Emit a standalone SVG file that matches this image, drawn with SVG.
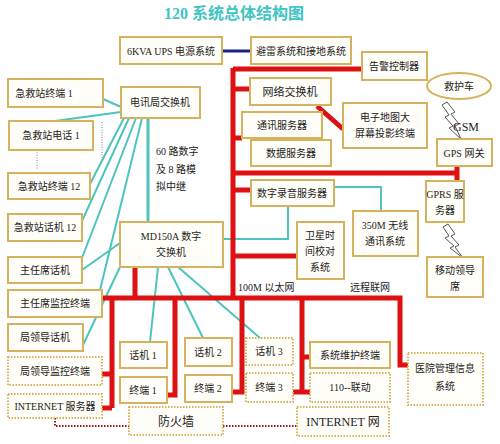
<svg xmlns="http://www.w3.org/2000/svg" width="500" height="444" viewBox="0 0 500 444">
<style>
.b{fill:#fffef8;stroke:#d6b25e;stroke-width:2}
.d{fill:#fffef8;stroke:#d6b25e;stroke-width:2;stroke-dasharray:1.5 1.5}
.t{font-family:"Liberation Serif","Noto Sans CJK SC",serif;font-size:10px;fill:#222;text-anchor:middle}
.r{stroke:#dd1111;stroke-width:5;fill:none}
.c{stroke:#4cc4c0;stroke-width:2;fill:none}
.g{stroke:#999;stroke-width:1.2;stroke-dasharray:1 1.5;fill:none}
.bolt{fill:#fff;stroke:#555;stroke-width:1}
</style>
<rect width="500" height="444" fill="#fff"/>
<text x="234" y="19" style="font-family:'Liberation Serif','Noto Sans CJK SC',serif;font-size:16px;font-weight:bold;fill:#40c4c4" text-anchor="middle">120 系统总体结构图</text>
<g id="connectors">
<path class="c" d="M148,118V222" style="stroke-width:3"/>
<path class="c" d="M103,99L121,107M55,121L121,112M124,118L90,184M129,118L82,221M136,118L82,258M142,118L100,290M120,243L82,270M120,267L83,345M158,267L150,342M168,267L203,338M178,267L260,338M223,239H288V206M334,187H381V211"/>
<path d="M222,51H251" stroke="#1a237e" stroke-width="3"/>
<path class="g" d="M37,150V170M102,122V162"/>
<path d="M55,418V426H129M223,426H297" stroke="#a01010" stroke-width="2" stroke-dasharray="1.5 1.5" fill="none"/>
<path class="r" d="M233,68V298M233,69H362M233,89H250M233,138H242M233,173H457M457,166V181M233,190H251M233,256H297M102,298H400V365H408M135,267V298M112,298V408M102,374H112M102,408H112M175,298V395H167M242,298V392H232M302,298V392M293,392H310M302,357H310M317,106L343,129"/>
<polygon class="bolt" points="447,102 455,112 451,114 459,124 455,126 461,139 449,128 453,126 445,117 449,115 442,105"/>
<polygon class="bolt" points="448,224 455,234 451,236 459,245 455,247 463,258 450,248 454,246 445,238 449,236 443,227"/>
</g>
<text class="t" x="466" y="131" style="font-size:12px">GSM</text>
<text class="t" x="156" y="155" style="text-anchor:start">60 路数字</text>
<text class="t" x="156" y="173" style="text-anchor:start">及 8 路模</text>
<text class="t" x="156" y="190" style="text-anchor:start">拟中继</text>
<text class="t" x="238" y="291" style="text-anchor:start">100M 以太网</text>
<text class="t" x="350" y="291" style="text-anchor:start">远程联网</text>
<g id="ups"><rect class="b" x="120" y="37" width="102" height="27"/><text class="t" x="171" y="55">6KVA UPS 电源系统</text></g>
<g id="blz"><rect class="b" x="251" y="37" width="100" height="27"/><text class="t" x="301" y="55">避雷系统和接地系统</text></g>
<g id="alarm"><rect class="b" x="362" y="52" width="65" height="28"/><text class="t" x="394" y="70">告警控制器</text></g>
<g id="ambulance"><ellipse cx="459" cy="86" rx="32" ry="13" fill="#fffef8" stroke="#d6b25e" stroke-width="2"/><text class="t" x="459" y="90">救护车</text></g>
<g id="gps"><rect class="b" x="437" y="139" width="55" height="27"/><text class="t" x="464" y="157">GPS 网关</text></g>
<g id="gprs"><rect class="b" x="426" y="181" width="38" height="41"/><text class="t" x="445" y="198">GPRS 服</text><text class="t" x="445" y="214">务器</text></g>
<g id="mobile"><rect class="b" x="427" y="257" width="56" height="40"/><text class="t" x="455" y="274">移动领导</text><text class="t" x="455" y="290">席</text></g>
<g id="netsw"><rect class="b" x="250" y="78" width="81" height="27"/><text class="t" x="290" y="96" style="font-size:11px">网络交换机</text></g>
<g id="comm"><rect class="b" x="242" y="112" width="80" height="26"/><text class="t" x="282" y="129">通讯服务器</text></g>
<g id="data"><rect class="b" x="251" y="140" width="80" height="26"/><text class="t" x="291" y="157">数据服务器</text></g>
<g id="emap"><rect class="b" x="343" y="103" width="84" height="45"/><text class="t" x="385" y="121">电子地图大</text><text class="t" x="385" y="137">屏幕投影终端</text></g>
<g id="rec"><rect class="b" x="251" y="180" width="83" height="26"/><text class="t" x="292" y="197">数字录音服务器</text></g>
<g id="radio"><rect class="b" x="353" y="211" width="65" height="45"/><text class="t" x="385" y="229">350M 无线</text><text class="t" x="385" y="245">通讯系统</text></g>
<g id="sat"><rect class="b" x="297" y="222" width="47" height="57"/><text class="t" x="320" y="239">卫星时</text><text class="t" x="320" y="255">间校对</text><text class="t" x="320" y="271">系统</text></g>
<g id="telsw"><rect class="b" x="121" y="87" width="79" height="31"/><text class="t" x="160" y="106">电讯局交换机</text></g>
<g id="md150"><rect class="b" x="120" y="222" width="103" height="45"/><text class="t" x="171" y="240">MD150A 数字</text><text class="t" x="171" y="256">交换机</text></g>
<g id="st1"><rect class="b" x="8" y="79" width="95" height="28"/><text class="t" x="44" y="97">急救站终端 1</text></g>
<g id="sp1"><rect class="b" x="9" y="121" width="84" height="29"/><text class="t" x="51" y="139">急救站电话 1</text></g>
<g id="st12"><rect class="b" x="8" y="173" width="82" height="26"/><text class="t" x="49" y="190">急救站终端 12</text></g>
<g id="sp12"><rect class="b" x="8" y="214" width="74" height="27"/><text class="t" x="45" y="231">急救站话机 12</text></g>
<g id="dirp"><rect class="b" x="8" y="257" width="74" height="26"/><text class="t" x="45" y="274">主任席话机</text></g>
<g id="dirm"><rect class="b" x="8" y="290" width="94" height="27"/><text class="t" x="55" y="307">主任席监控终端</text></g>
<g id="leadp"><rect class="b" x="8" y="324" width="75" height="27"/><text class="t" x="45" y="341">局领导话机</text></g>
<g id="leadm"><rect class="d" x="8" y="357" width="94" height="28"/><text class="t" x="55" y="375">局领导监控终端</text></g>
<g id="isrv"><rect class="d" x="8" y="394" width="94" height="24"/><text class="t" x="55" y="410">INTERNET 服务器</text></g>
<g id="fw"><rect class="d" x="129" y="407" width="94" height="28"/><text class="t" x="176" y="426" style="font-size:12px">防火墙</text></g>
<g id="inet"><rect class="d" x="297" y="407" width="92" height="29"/><text class="t" x="343" y="426" style="font-size:12px">INTERNET 网</text></g>
<g id="p1"><rect class="b" x="120" y="342" width="47" height="26"/><text class="t" x="143" y="359">话机 1</text></g>
<g id="t1"><rect class="b" x="120" y="377" width="47" height="26"/><text class="t" x="143" y="394">终端 1</text></g>
<g id="p2"><rect class="b" x="185" y="338" width="47" height="28"/><text class="t" x="208" y="356">话机 2</text></g>
<g id="t2"><rect class="b" x="185" y="375" width="47" height="27"/><text class="t" x="208" y="392">终端 2</text></g>
<g id="p3"><rect class="d" x="246" y="338" width="47" height="27"/><text class="t" x="269" y="355">话机 3</text></g>
<g id="t3"><rect class="d" x="246" y="373" width="47" height="29"/><text class="t" x="269" y="391">终端 3</text></g>
<g id="maint"><rect class="b" x="310" y="342" width="80" height="26"/><text class="t" x="350" y="359">系统维护终端</text></g>
<g id="link110"><rect class="d" x="310" y="373" width="80" height="29"/><text class="t" x="350" y="391">110--联动</text></g>
<g id="his"><rect class="d" x="408" y="353" width="75" height="52"/><text class="t" x="445" y="372">医院管理信息</text><text class="t" x="445" y="390">系统</text></g>
</svg>
